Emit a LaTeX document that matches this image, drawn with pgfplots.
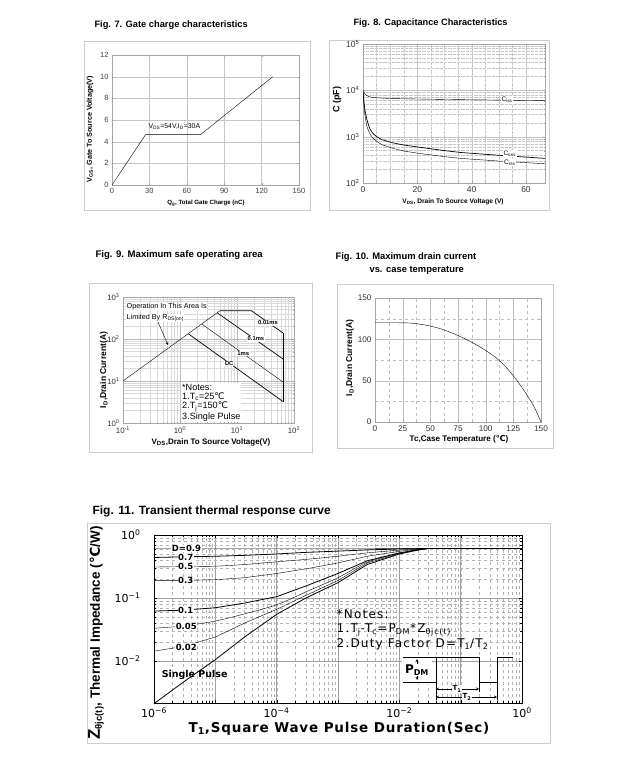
\documentclass[border=0pt]{standalone}
\usepackage{fontspec}
\setmainfont{Liberation Sans}
\newfontfamily\dejavu{DejaVu Sans}
\newfontfamily\dejavuls{DejaVu Sans}[LetterSpace=10]
\newfontfamily\dejavulsb{DejaVu Sans}[LetterSpace=6]
\usepackage{pgfplots}
\pgfplotsset{compat=1.18}
\newcommand{\degC}{{\dejavu ℃}}
\newcommand{\fs}[1]{\fontsize{#1}{#1}\selectfont}
\newcommand{\notesfont}{\fontsize{9.1}{9.2}\selectfont}
\pgfplotsset{
 ds/.style={scale only axis, anchor=south west,
   axis line style={gray!70, line width=0.5pt},
   tick style={gray!70}, major tick length=2pt, minor tick length=1pt,
   /pgf/number format/assume math mode=true,
   no markers, cycle list={{black, line width=0.7pt}},
   grid style={gray!45, line width=0.3pt}},
}
\begin{document}
\begin{tikzpicture}[x=1pt,y=1pt]
\path[use as bounding box, fill=white] (0,0) rectangle (626,781);
% frames
\begin{scope}[shift={(0,781)}, yscale=-1]
 \draw[gray!40, line width=0.7pt] (84,41) rectangle (310,210);
 \draw[gray!40, line width=0.7pt] (329,40) rectangle (549,210);
 \draw[gray!40, line width=0.7pt] (89,283) rectangle (312,452);
 \draw[gray!40, line width=0.7pt] (337,284) rectangle (553,448);
 \draw[gray!40, line width=0.7pt] (87,523) rectangle (550,743);
\end{scope}

% ---------------- Fig 7 ----------------
\begin{axis}[ds, at={(112pt,596pt)}, width=187pt, height=130pt,
 xmin=0, xmax=150, ymin=0, ymax=12, xtick={0,30,...,150}, ytick={0,2,...,12},
 grid=major, tick label style={font=\fs{7.5}, text=black!75}]
\addplot coordinates {(0,0) (27,4.65) (71,4.65) (129,10)};
\node[font=\fs{6.9}, anchor=south] at (axis cs:50,4.75) {V\textsubscript{DS}=54V,I\textsubscript{D}=30A};
\end{axis}

% ---------------- Fig 8 ----------------
\begin{axis}[ds, at={(363pt,598pt)}, width=182pt, height=139pt, ymode=log,
 xmin=0, xmax=67, ymin=100, ymax=100000, xtick={0,20,40,60}, minor x tick num=3,
 ytick={100,1000,10000,100000},
 yticklabels={10\textsuperscript{2},10\textsuperscript{3},10\textsuperscript{4},10\textsuperscript{5}},
 grid=both, major grid style={gray!45}, minor grid style={gray!45, densely dotted},
 tick label style={font=\fs{8.5}, text=black!80}]
\addplot coordinates {(0,10000) (0.5,8800) (1,8000) (2,7400) (3,7100) (5,6900) (10,6650) (20,6500) (30,6350) (40,6250) (50,6150) (67,5970)};
\addplot coordinates {(0,9500) (0.3,6000) (0.7,3800) (1.35,2440) (2,1800) (2.6,1450) (3.5,1200) (5,1000) (7,860) (11,735) (15,660) (20,600) (30,500) (36,455) (49,400) (67,340)};
\addplot coordinates {(0,9000) (0.3,5000) (0.7,3000) (1.35,1730) (2,1350) (2.6,1130) (3.5,950) (5,790) (7,670) (11,560) (15,490) (20,440) (30,370) (36,340) (49,300) (67,260)};
\node[font=\fs{6.5}, fill=white, inner sep=0.8pt] at (axis cs:53,6150) {C\textsubscript{iss}};
\node[font=\fs{6.5}, fill=white, inner sep=0.8pt] at (axis cs:54,430) {C\textsubscript{oss}};
\node[font=\fs{6.5}, fill=white, inner sep=0.8pt] at (axis cs:54,275) {C\textsubscript{rss}};
\end{axis}

% ---------------- Fig 9 ----------------
\begin{axis}[ds, at={(123pt,358pt)}, width=171pt, height=126pt, xmode=log, ymode=log,
 xmin=0.1, xmax=100, ymin=1, ymax=1000,
 xtick={0.1,1,10,100}, ytick={1,10,100,1000},
 xticklabels={10\textsuperscript{-1},10\textsuperscript{0},10\textsuperscript{1},10\textsuperscript{2}},
 yticklabels={10\textsuperscript{0},10\textsuperscript{1},10\textsuperscript{2},10\textsuperscript{3}},
 grid=both, major grid style={gray!55}, minor grid style={gray!30},
 tick label style={font=\fs{7.8}, text=black!80}]
\addplot coordinates {(0.1,10) (5,470)};
\addplot coordinates {(5,470) (18,470) (65,137)};
\addplot coordinates {(65,137) (65,3.2)};
\addplot coordinates {(4.5,420) (65,33)};
\addplot coordinates {(2.4,228) (65,9.3)};
\addplot coordinates {(1.4,133) (65,3.2)};
\node[font=\bfseries\fs{5.8}, fill=white, inner sep=0.8pt] at (axis cs:35,245) {0.01ms};
\node[font=\bfseries\fs{5.8}, fill=white, inner sep=0.8pt] at (axis cs:21.5,100) {0.1ms};
\node[font=\bfseries\fs{5.8}, fill=white, inner sep=0.8pt] at (axis cs:12.9,45) {1ms};
\node[font=\bfseries\fs{5.8}, fill=white, inner sep=0.8pt] at (axis cs:7.3,26) {DC};
\end{axis}

% ---------------- Fig 10 ----------------
\begin{axis}[ds, at={(375pt,359pt)}, width=166pt, height=124pt,
 xmin=0, xmax=150, ymin=0, ymax=150, xtick={0,25,...,150}, ytick={0,50,100,150},
 minor x tick num=1, minor y tick num=1,
 grid=both, major grid style={gray!50}, minor grid style={gray!50, dashed},
 tick label style={font=\fs{8.2}, text=black!80}]
\addplot+[smooth] coordinates {(0,120) (20,120) (30,119.8) (40,118.5) (50,116) (60,112.5) (70,107.5) (80,101.5) (90,94.5) (100,86.5) (110,77) (120,64) (130,47) (140,27) (145,15) (150,0)};
\end{axis}

% ---------------- Fig 11 ----------------
\begin{axis}[ds, at={(154pt,78pt)}, width=368pt, height=168pt, xmode=log, ymode=log,
 xmin=1e-6, xmax=1, ymin=0.00215, ymax=1,
 xtick={1e-6,1e-5,1e-4,1e-3,1e-2,1e-1,1},
 xticklabels={10\textsuperscript{−6},,10\textsuperscript{−4},,10\textsuperscript{−2},,10\textsuperscript{0}},
 ytick={0.01,0.1,1},
 yticklabels={10\textsuperscript{−2},10\textsuperscript{−1},10\textsuperscript{0}},
 axis line style={black, line width=0.8pt}, tick style={black},
 major tick length=3pt, minor tick length=2pt,
 grid=both, major grid style={gray!75, line width=0.4pt}, minor grid style={gray!60, dashed, line width=0.3pt},
 tick label style={font=\dejavu\fs{11}},
 yticklabel style={xshift=-10pt}, xticklabel style={yshift=-1pt},
 cycle list={{black, line width=0.8pt, smooth}}]
\addplot coordinates {(1e-6,0.61) (1e-4,0.61) (1e-2,0.612) (1,0.612)};
\addplot coordinates {(1e-6,0.44) (3e-6,0.45) (1e-5,0.46) (3e-5,0.475) (1e-4,0.50) (3e-4,0.53) (1e-3,0.555) (3e-3,0.58) (1e-2,0.60) (3e-2,0.612) (1,0.612)};
\addplot coordinates {(1e-6,0.31) (3e-6,0.315) (1e-5,0.32) (3e-5,0.34) (1e-4,0.375) (3e-4,0.41) (1e-3,0.46) (3e-3,0.52) (1e-2,0.575) (2e-2,0.60) (3e-2,0.612) (1,0.612)};
\addplot coordinates {(1e-6,0.19) (3e-6,0.19) (1e-5,0.195) (3e-5,0.21) (1e-4,0.245) (3e-4,0.29) (1e-3,0.36) (3e-3,0.46) (1e-2,0.55) (2e-2,0.595) (3e-2,0.612) (1,0.612)};
\addplot coordinates {(1e-6,0.062) (3e-6,0.064) (1e-5,0.07) (3e-5,0.083) (1e-4,0.105) (3e-4,0.155) (1e-3,0.245) (3e-3,0.39) (1e-2,0.52) (2e-2,0.585) (3e-2,0.612) (1,0.612)};
\addplot coordinates {(1e-6,0.033) (3e-6,0.036) (1e-5,0.043) (3e-5,0.056) (1e-4,0.078) (3e-4,0.125) (1e-3,0.21) (3e-3,0.37) (1e-2,0.51) (2e-2,0.58) (3e-2,0.612) (1,0.612)};
\addplot coordinates {(1e-6,0.0143) (3e-6,0.017) (1e-5,0.024) (3e-5,0.04) (1e-4,0.066) (3e-4,0.11) (1e-3,0.19) (3e-3,0.36) (1e-2,0.505) (2e-2,0.58) (3e-2,0.612) (1,0.612)};
\addplot coordinates {(1e-6,0.0021) (3e-6,0.0046) (1e-5,0.0105) (3e-5,0.024) (1e-4,0.055) (3e-4,0.10) (1e-3,0.175) (3e-3,0.34) (1e-2,0.50) (2e-2,0.575) (3e-2,0.612) (1,0.612)};
\begin{scope}[every node/.style={font=\dejavu\bfseries\fs{8.5}, fill=white, inner sep=0.6pt, anchor=west}]
\node at (axis cs:1.9e-6,0.61) {D=0.9};
\node at (axis cs:2.4e-6,0.447) {0.7};
\node at (axis cs:2.4e-6,0.314) {0.5};
\node at (axis cs:2.4e-6,0.19) {0.3};
\node at (axis cs:2.4e-6,0.064) {0.1};
\node at (axis cs:2.2e-6,0.0355) {0.05};
\node at (axis cs:2.2e-6,0.0165) {0.02};
\node[fill=none, font=\dejavu\bfseries\fs{9.5}] at (axis cs:1.3e-6,0.0059) {Single Pulse};
\end{scope}
\end{axis}

% ---------------- text / annotations ----------------
\begin{scope}[shift={(0,781)}, yscale=-1]
 % Fig 7
 \node[anchor=west, font=\bfseries\fs{9.3}] at (91,25) {Fig. 7. Gate charge characteristics};
 \node[rotate=90, font=\bfseries\fs{7.2}] at (90,129) {V\textsubscript{GS}, Gate To Source Voltage(V)};
 \node[font=\bfseries\fs{6.1}] at (206,203) {Q\textsubscript{g}, Total Gate Charge (nC)};
 % Fig 8
 \node[anchor=west, font=\bfseries\fs{9.2}] at (350,23) {Fig. 8. Capacitance Characteristics};
 \node[rotate=90, font=\bfseries\fs{9}] at (337,100) {C (pF)};
 \node[font=\bfseries\fs{6.6}] at (453,202) {V\textsubscript{DS}, Drain To Source Voltage (V)};
 % Fig 9
 \node[anchor=west, font=\bfseries\fs{9.6}] at (92,255) {Fig. 9. Maximum safe operating area};
 \node[rotate=90, font=\bfseries\fs{8.5}] at (104,370) {I\textsubscript{D},Drain Current(A)};
 \node[font=\bfseries\fs{8}] at (211,442) {V\textsubscript{DS},Drain To Source Voltage(V)};
 \node[anchor=west, font=\fs{7.2}, fill=white, inner sep=0.5pt] at (126,307) {Operation In This Area Is};
 \node[anchor=west, font=\fs{7.2}, fill=white, inner sep=0.5pt] at (126,318) {Limited By R\textsubscript{DS(on)}};
 \draw[->, >=stealth, line width=0.4pt] (158,322) -- (168,345);
 \node[anchor=north west, fill=white, inner sep=1pt, align=left, font=\notesfont] at (181,383)
   {\notesfont *Notes:\\\notesfont 1.T\textsubscript{c}=25\degC\\\notesfont 2.T\textsubscript{j}=150\degC\\\notesfont 3.Single Pulse};
 % Fig 10
 \node[anchor=west, font=\bfseries\fs{9.4}] at (332,257) {Fig. 10. Maximum drain current};
 \node[anchor=west, font=\bfseries\fs{9.4}] at (366,270) {vs. case temperature};
 \node[rotate=90, font=\bfseries\fs{8.5}] at (350,358) {I\textsubscript{D},Drain Current(A)};
 \node[font=\bfseries\fs{8.1}] at (459,439) {Tc,Case Temperature (\degC)};
 % Fig 11
 \node[anchor=west, font=\bfseries\fs{12}] at (89,511) {Fig. 11. Transient thermal response curve};
 \node[rotate=90, font=\bfseries\fs{13.5}] at (96,633) {{\fs{17}Z}\textsubscript{θjc(t)}, Thermal Impedance (\degC/W)};
 \node[font=\dejavulsb\bfseries\fs{13.5}] at (339,729) {T\textsubscript{1},Square Wave Pulse Duration(Sec)};
 \node[anchor=west, font=\dejavuls\fs{12}, inner sep=0.5pt] at (336,614) {*Notes:};
 \node[anchor=west, font=\dejavuls\fs{12}, inner sep=0.5pt] at (336,630) {1.T\textsubscript{j}-T\textsubscript{c}=P\textsubscript{DM}*Z\textsubscript{θjc(t)}};
 \node[anchor=west, font=\dejavuls\fs{12}, inner sep=0.5pt] at (336,644) {2.Duty Factor D=T\textsubscript{1}/T\textsubscript{2}};
 % pulse diagram
 \fill[white] (402,655) rectangle (432,684);
 \draw[black, line width=0.9pt] (403,682) -- (436,682) -- (436,657) -- (479,657) -- (479,682) -- (497,682) -- (497,657) -- (513,657);
 \draw[black, line width=0.5pt] (403,657) -- (436,657);
 \draw[<->, >=stealth, line width=0.5pt] (417,659) -- (417,680);
 \node[font=\dejavu\bfseries\fs{12}, fill=white, inner sep=0.5pt] at (417,670) {P\textsubscript{DM}};
 \draw[line width=0.4pt] (436,682) -- (436,700) (479,682) -- (479,692) (497,682) -- (497,700);
 \draw[<->, >=stealth, line width=0.4pt] (436,689) -- (479,689);
 \draw[<->, >=stealth, line width=0.4pt] (436,697) -- (497,697);
 \node[font=\dejavu\bfseries\fs{7}, fill=white, inner sep=0.5pt] at (457,689) {T\textsubscript{1}};
 \node[font=\dejavu\bfseries\fs{7}, fill=white, inner sep=0.5pt] at (467,697) {T\textsubscript{2}};
\end{scope}
\end{tikzpicture}
\end{document}
